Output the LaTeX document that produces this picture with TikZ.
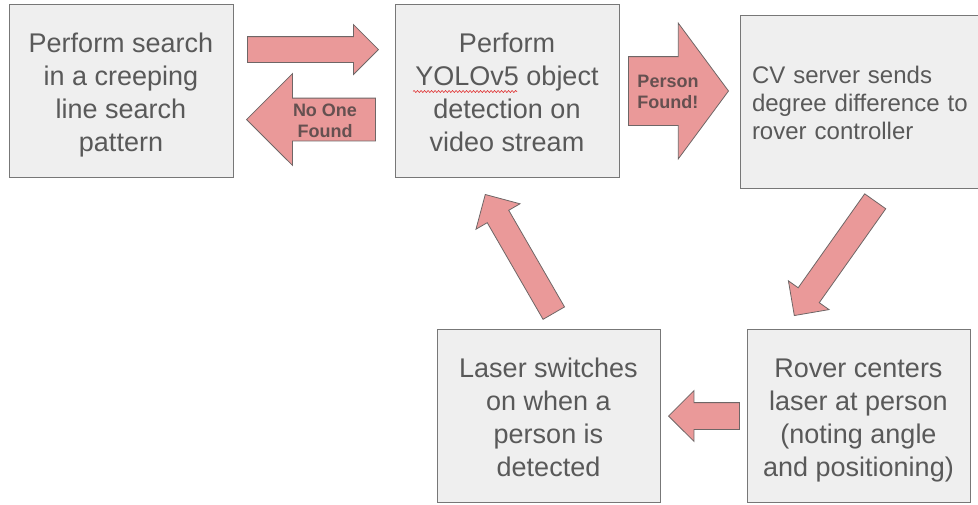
\documentclass[tikz,border=0pt]{standalone}
\usepackage{fontspec}
\setmainfont{Liberation Sans}
\usepackage{tikz}
\usetikzlibrary{shapes.arrows,positioning,calc,decorations.pathmorphing}
\definecolor{boxfill}{HTML}{EFEFEF}
\definecolor{boxline}{HTML}{777777}
\definecolor{txtgrey}{HTML}{595959}
\definecolor{arrfill}{HTML}{EA9999}
\definecolor{arrline}{HTML}{6E6666}
\definecolor{lblgrey}{HTML}{655050}
\definecolor{spellred}{HTML}{E03030}
% fixed first-line height / last-line depth
\newcommand{\hi}{\rule{0pt}{28pt}}
\newcommand{\lo}{\rule[-6pt]{0pt}{6pt}}

\begin{document}
\begin{tikzpicture}[
  x=1pt, y=1pt,
  stepbox/.style={draw=boxline, fill=boxfill, line width=0.9pt, text=txtgrey, inner sep=0pt,
    align=center, minimum width=224pt, minimum height=173pt, font=\fontsize{27}{33}\selectfont},
  blk/.style={single arrow, anchor=tip, draw=arrline, fill=arrfill, line width=0.8pt, inner sep=0pt},
  lbl/.style={text=lblgrey, font=\bfseries\fontsize{18}{21}\selectfont, align=left, inner sep=0pt},
  spell/.style={draw=spellred, line width=0.6pt,
    decorate, decoration={snake, amplitude=1pt, segment length=3.5pt}}
]
\useasboundingbox (0,0) rectangle (978,-504);
% ---- boxes ------------------------------------------------------------------
\node[stepbox] (search) at (121,-90.5)
  {\hi Perform search\\in a creeping\\line search\\pattern\lo};
\node[stepbox] (yolo) at (507,-90.5)
  {\hi Perform\\YOLOv5 object\\detection on\\video stream\lo};
\node[stepbox, minimum width=242pt, text width=218pt, inner xsep=12pt, align=left,
  font=\fontsize{24}{28}\selectfont] (cv) at (861,-101.5)
  {\rule{0pt}{25pt}CV server sends\\degree difference to\\rover controller\rule[-5pt]{0pt}{5pt}};
\node[stepbox, minimum width=223pt] (laser) at (548.5,-415.5)
  {\hi Laser switches\\on when a\\person is\\detected\lo};
\node[stepbox, minimum width=223pt] (rover) at (858.5,-415.5)
  {\hi Rover centers\\laser at person\\(noting angle\\and positioning)\lo};

% spell-check underline
\draw[spell] ($(yolo.center)+(-94,-1)$) -- ($(yolo.center)+(10,-1)$);

% ---- block arrows (placed by their tips) ------------------------------------
\node[blk, inner ysep=12.5pt, single arrow head extend=12pt, minimum height=131pt] (go) at (379,-49.5) {};
\node[blk, rotate=180, inner ysep=21pt, single arrow head extend=24.5pt, minimum height=129pt] (back) at (246,-119.5) {};
\node[lbl, align=center] (none) at (325,-121) {No One\\Found};
\node[blk, single arrow tip angle=107, inner ysep=34pt, single arrow head extend=33.5pt,
  minimum height=100pt] (found) at (729,-91) {};
\node[lbl] (person) at (668,-91.5) {Person\\Found!};
\node[blk, rotate=234.7, inner ysep=12.5pt, single arrow head extend=12pt, minimum height=140pt] (send) at (794,-316) {};
\node[blk, rotate=180, inner ysep=13pt, single arrow head extend=12pt, minimum height=71pt] (aim) at (668,-416) {};
\node[blk, rotate=120, inner ysep=12pt, single arrow head extend=13pt, minimum height=137pt] (loop) at (485,-194) {};
\end{tikzpicture}
\end{document}
